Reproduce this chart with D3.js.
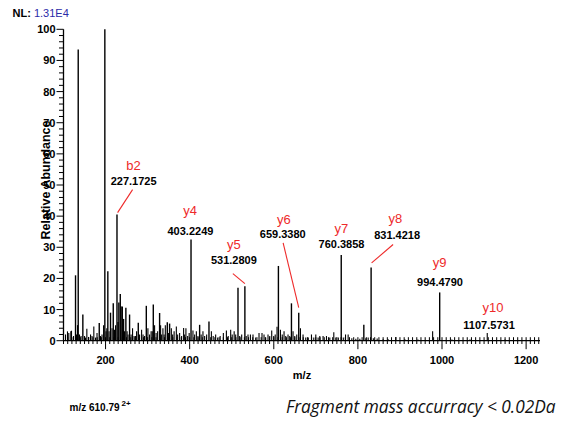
<!DOCTYPE html>
<html>
<head>
<meta charset="utf-8">
<script src="https://cdn.jsdelivr.net/npm/d3@7"></script>
<style>
  body { margin: 0; background: #fff; }
  svg { display: block; font-family: "Liberation Sans", Arial, sans-serif; }
</style>
</head>
<body>
<div id="chart"></div>
<script>
/**
 * DATA
 * */
// peak list: m/z and relative abundance (%)
const peakMz = [
  104.8, 109.5, 112.6, 117.4, 119.0, 123.8, 128.6, 131.0, 133.3, 135.0,
  138.0, 141.7, 146.0, 150.0, 152.4, 155.5, 159.5, 164.3, 167.8, 172.1,
  176.2, 179.7, 185.0, 188.0, 191.6, 195.3, 198.3, 201.2, 203.0, 205.4,
  208.3, 211.8, 215.4, 218.3, 221.4, 223.8, 227.17, 229.7, 231.6, 235.0,
  236.9, 239.8, 242.8, 245.2, 248.3, 251.2, 253.5, 257.1, 260.7, 264.2,
  267.8, 271.4, 273.8, 277.8, 280.9, 285.7, 289.2, 292.8, 296.9, 300.7,
  304.7, 308.3, 311.1, 313.5, 316.6, 320.2, 323.8, 328.5, 330.9, 333.3,
  336.4, 339.2, 342.1, 346.8, 349.9, 352.3, 356.4, 359.5, 363.0, 368.3,
  371.4, 376.1, 380.9, 385.6, 388.0, 391.1, 395.2, 398.8, 403.22, 407.8,
  411.8, 415.9, 419.7, 423.7, 427.3, 431.6, 435.6, 440.4, 445.9, 451.6,
  455.9, 461.8, 466.6, 472.5, 480.1, 487.3, 491.6, 497.5, 501.1, 505.8,
  509.4, 514.9, 518.9, 523.7, 531.28, 534.4, 538.7, 544.4, 550.6, 557.0,
  564.9, 572.0, 576.8, 580.8, 586.3, 590.4, 595.1, 599.9, 603.4, 607.7,
  611.0, 615.8, 620.1, 624.4, 628.4, 633.9, 637.9, 642.0, 645.8, 649.9,
  654.6, 659.34, 663.4, 669.6, 676.0, 682.0, 689.6, 695.1, 699.9, 705.4,
  709.4, 717.2, 725.3, 733.2, 742.7, 747.5, 753.4, 760.39, 765.3, 770.6,
  776.8, 785.6, 795.1, 804.6, 814.1, 818.9, 824.4, 831.42, 836.7, 845.8,
  860.0, 872.0, 890.3, 911.7, 942.7, 977.7, 994.48, 1023.6, 1066.4, 1107.57,
  1149.8
];
const peakInt = [
  2, 3, 2.5, 3, 3.2, 1.5, 21, 2, 5, 93.5,
  2, 1.5, 8.4, 1.5, 1, 3.8, 1.2, 2, 1.5, 4.6,
  1, 2.5, 5.7, 1.5, 2, 5, 100, 3, 4, 22.3,
  3, 9, 4, 12, 3.5, 5, 40.5, 6, 12.3, 15,
  11, 11, 7, 3, 10.6, 3, 2, 8.4, 2, 4,
  1.5, 1.5, 3, 5.8, 2, 3.5, 2, 1.5, 11.2, 4,
  2, 3, 3, 11.6, 5, 2.5, 3, 8.9, 5, 2,
  4, 2, 5, 5.9, 2.5, 5.5, 4, 2, 3, 4.6,
  2, 2.5, 1.5, 4.1, 2, 4, 1.5, 2.5, 32.5, 3.3,
  2, 3, 1.5, 5.1, 2, 3, 1.5, 2, 6.2, 3,
  1.5, 2, 1, 1.5, 2.5, 3.3, 1.5, 3.5, 2, 3,
  2, 17, 1.5, 2, 17.5, 1.5, 2, 2, 2, 1,
  2.5, 2.5, 2, 1, 2, 1.5, 3.3, 1.5, 2, 4.5,
  24, 3.5, 2, 3, 1.5, 2, 1.5, 12, 3, 1.5,
  2, 9, 4, 2, 1, 1, 2, 1, 2, 1,
  1.5, 1.5, 1.5, 1, 2.7, 1, 1, 27.5, 1, 2,
  2, 0.8, 0.6, 0.6, 5.1, 0.8, 1, 23.5, 0.8, 0.7,
  0.5, 0.5, 1.2, 0.5, 0.4, 3, 15.5, 0.4, 0.4, 2.5,
  0.4
];

// annotated fragment ions
const ionNames = ["b2", "y4", "y5", "y6", "y7", "y8", "y9", "y10"];
const ionMz = [227.1725, 403.2249, 531.2809, 659.3380, 760.3858, 831.4218, 994.4790, 1107.5731];
const ionInt = [40.5, 32.5, 17.5, 9, 27.5, 23.5, 15.5, 2.5];

// axis ticks
const xTickLabels = [200, 400, 600, 800, 1000, 1200];
const yTickLabels = [0, 10, 20, 30, 40, 50, 60, 70, 80, 90, 100];

/**
 * LAYOUT
 * */
const width = 561, height = 423;
const plot = { left: 63.5, right: 540, top: 29.3, bottom: 340.7 };

// label offsets from each peak top (px): red ion name, black m/z, leader line
const labelLayout = {
  b2:  { rx: 16.6, ry: -45,   nx: 16.6, ny: -30,   line: [15.6, -25, 0.6, -2] },
  y4:  { rx: -1,   ry: -24,   nx: -0.6, ny: -4.3 },
  y5:  { rx: -11,  ry: -37.6, nx: -11,  ny: -22.6, line: [-12, -12.6, 0, -2.6] },
  y6:  { rx: -15,  ry: -89,   nx: -16,  ny: -74.7, line: [-15.6, -69.7, 0, -5] },
  y7:  { rx: 0,    ry: -22.5, nx: 0.3,  ny: -7.2 },
  y8:  { rx: 24.3, ry: -45,   nx: 26,   ny: -28.6, line: [22, -23, 0.5, -4.6] },
  y9:  { rx: 0,    ry: -25,   nx: 0.3,  ny: -6.8 },
  y10: { rx: 5.8,  ry: -21,   nx: 1.8,  ny: -4 }
};

const svg = d3.select("#chart")
  .append("svg")
  .attr("width", width)
  .attr("height", height);

// SCALES
const xScale = d3.scaleLinear().domain([100, 1233]).range([plot.left, plot.right]);
const yScale = d3.scaleLinear().domain([0, 100]).range([plot.bottom, plot.top]);

// X AXIS: minor ticks every 10, long ticks every 200
const xMinor = d3.range(100, 1231, 10);
svg.append("g")
  .selectAll("line")
  .data(xMinor)
  .join("line")
  .attr("x1", d => xScale(d)).attr("x2", d => xScale(d))
  .attr("y1", plot.bottom - 3.5)
  .attr("y2", d => xTickLabels.includes(d) ? plot.bottom + 8.5 : plot.bottom + 3.3)
  .attr("stroke", "#000")
  .attr("stroke-width", 1);

svg.append("line")
  .attr("x1", xScale(100)).attr("x2", plot.right)
  .attr("y1", plot.bottom).attr("y2", plot.bottom)
  .attr("stroke", "#000").attr("stroke-width", 1.3);

svg.append("g")
  .selectAll("text")
  .data(xTickLabels)
  .join("text")
  .attr("x", d => xScale(d))
  .attr("y", 364)
  .attr("text-anchor", "middle")
  .attr("font-size", 11)
  .attr("font-weight", "bold")
  .text(d => d);

svg.append("text")
  .attr("x", 302).attr("y", 379)
  .attr("text-anchor", "middle")
  .attr("font-size", 11).attr("font-weight", "bold")
  .text("m/z");

// Y AXIS: minor ticks every 2
const yMinor = d3.range(0, 101, 2);
svg.append("g")
  .selectAll("line")
  .data(yMinor)
  .join("line")
  .attr("x1", d => d % 10 === 0 ? plot.left - 7 : plot.left - 4.5)
  .attr("x2", plot.left)
  .attr("y1", d => yScale(d)).attr("y2", d => yScale(d))
  .attr("stroke", "#000")
  .attr("stroke-width", 1);

svg.append("line")
  .attr("x1", plot.left).attr("x2", plot.left)
  .attr("y1", plot.bottom).attr("y2", plot.top)
  .attr("stroke", "#000").attr("stroke-width", 1.3);

svg.append("g")
  .selectAll("text")
  .data(yTickLabels)
  .join("text")
  .attr("x", 55.5)
  .attr("y", d => yScale(d) + 4)
  .attr("text-anchor", "end")
  .attr("font-size", 11)
  .attr("font-weight", "bold")
  .text(d => d);

svg.append("text")
  .attr("transform", "translate(49.5,180) rotate(-90)")
  .attr("text-anchor", "middle")
  .attr("font-size", 12.5).attr("font-weight", "bold")
  .text("Relative Abundance");

// PEAKS
const peaks = peakMz.map((mz, i) => ({ mz, int: peakInt[i] }));
svg.append("g")
  .selectAll("line")
  .data(peaks)
  .join("line")
  .attr("x1", d => xScale(d.mz)).attr("x2", d => xScale(d.mz))
  .attr("y1", plot.bottom)
  .attr("y2", d => yScale(d.int))
  .attr("stroke", "#000")
  .attr("stroke-width", d => d.int > 5 ? 1.4 : 1.1);

// ION LABELS
const ions = ionNames.map((name, i) => ({ name, mz: ionMz[i], int: ionInt[i], lay: labelLayout[name] }));
const ionG = svg.append("g")
  .selectAll("g")
  .data(ions)
  .join("g")
  .attr("transform", d => `translate(${xScale(d.mz)},${yScale(d.int)})`);

ionG.append("text")
  .attr("x", d => d.lay.rx).attr("y", d => d.lay.ry)
  .attr("text-anchor", "middle")
  .attr("font-size", 13)
  .attr("fill", "#ee2a2a")
  .text(d => d.name);

ionG.append("text")
  .attr("x", d => d.lay.nx).attr("y", d => d.lay.ny)
  .attr("text-anchor", "middle")
  .attr("font-size", 11).attr("font-weight", "bold")
  .text(d => d3.format(".4f")(d.mz));

ionG.filter(d => d.lay.line)
  .append("line")
  .attr("x1", d => d.lay.line[0]).attr("y1", d => d.lay.line[1])
  .attr("x2", d => d.lay.line[2]).attr("y2", d => d.lay.line[3])
  .attr("stroke", "#ee2a2a").attr("stroke-width", 1.1);

// HEADER / FOOTER TEXT
const nl = svg.append("text").attr("x", 12.5).attr("y", 17.3).attr("font-size", 11);
nl.append("tspan").attr("font-weight", "bold").attr("fill", "#000").text("NL: ");
nl.append("tspan").attr("fill", "#2b2ba8").text("1.31E4");

const prec = svg.append("text").attr("x", 69.5).attr("y", 410.7).attr("font-size", 10).attr("font-weight", "bold");
prec.append("tspan").text("m/z 610.79");
prec.append("tspan").attr("dx", 2).attr("dy", -5).attr("font-size", 8).text("2+");

svg.append("text")
  .attr("x", 286).attr("y", 413.3)
  .attr("font-family", "'Open Sans', sans-serif")
  .attr("font-style", "italic")
  .attr("font-size", 17.3)
  .attr("fill", "#111")
  .text("Fragment mass accurracy < 0.02Da");
</script>
</body>
</html>
